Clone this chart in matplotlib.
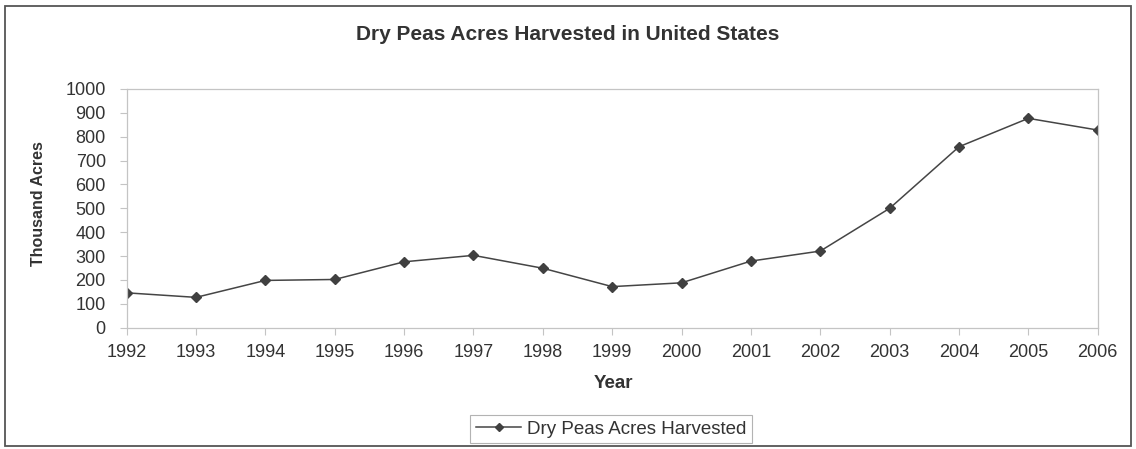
import matplotlib.pyplot as plt
from matplotlib.patches import Rectangle

years = [1992, 1993, 1994, 1995, 1996, 1997, 1998, 1999,
         2000, 2001, 2002, 2003, 2004, 2005, 2006]
acres = [146, 127, 198, 202, 276, 303, 249, 172,
         188, 279, 321, 500, 758, 877, 828]

plt.rcParams['font.family'] = ['Liberation Sans', 'DejaVu Sans']
txt = '#333333'
frame = '#c4c4c4'

fig = plt.figure(figsize=(11.36, 4.49), dpi=100)
ax = fig.add_axes([0.1115, 0.2702, 0.8548, 0.5316])

# outer chart border
fig.patches.append(Rectangle((5 / 1136, 3 / 449), 1126 / 1136, 440 / 449,
                             transform=fig.transFigure, fill=False,
                             edgecolor='#555555', linewidth=1.3))

ax.plot(years, acres, color='#454545', linewidth=1.1, marker='D',
        markersize=5.2, markerfacecolor='#404040', markeredgecolor='#404040',
        label='Dry Peas Acres Harvested')

ax.set_xlim(1992, 2006)
ax.set_ylim(0, 1000)
ax.set_xticks(years)
ax.set_yticks(range(0, 1001, 100))
ax.tick_params(axis='both', colors=frame, labelcolor=txt, labelsize=13,
               length=5, width=0.8)
ax.tick_params(axis='x', pad=7)
ax.tick_params(axis='y', pad=10)
for s in ax.spines.values():
    s.set_color(frame)
    s.set_linewidth(0.9)

fig.text(0.5, 0.924, 'Dry Peas Acres Harvested in United States',
         ha='center', va='center', fontsize=15, fontweight='bold', color=txt)
fig.text(613 / 1136, 1 - 383 / 449, 'Year', ha='center', va='center',
         fontsize=13.5, fontweight='bold', color=txt)
fig.text(38.5 / 1136, 1 - 203.5 / 449, 'Thousand Acres', ha='center',
         va='center', rotation=90, fontsize=11.5, fontweight='bold', color=txt)

leg = fig.legend(loc='center', bbox_to_anchor=(611 / 1136, 1 - 429 / 449),
                 fontsize=13.5, frameon=True, fancybox=False, borderpad=0.3,
                 handlelength=2.4, handletextpad=0.3, markerscale=0.8,
                 borderaxespad=0, labelcolor=txt)
leg.get_frame().set_edgecolor('#a0a0a0')
leg.get_frame().set_linewidth(0.8)

plt.savefig('out.png', dpi=100)
